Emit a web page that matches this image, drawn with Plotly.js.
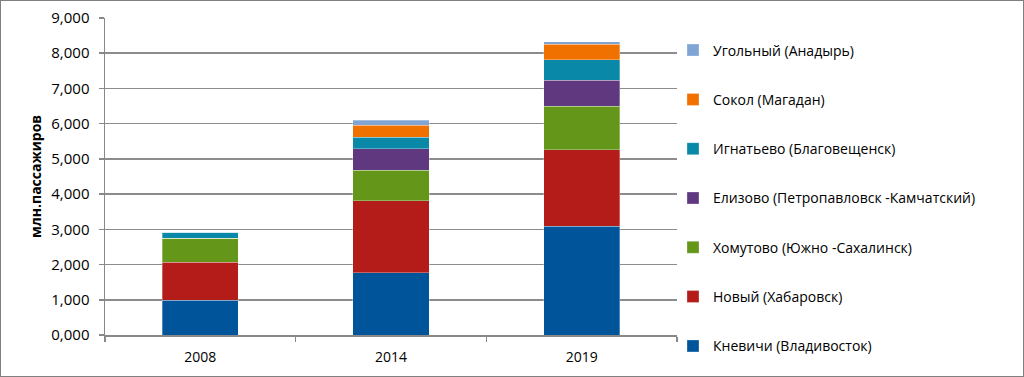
<!DOCTYPE html>
<html><head><meta charset="utf-8">
<script src="https://cdn.plot.ly/plotly-3.0.1.min.js"></script>
<style>
html,body{margin:0;padding:0;background:#fff;}
#wrap{width:1022px;height:375px;border:1px solid #808080;}
#chart{width:1022px;height:375px;}
</style></head>
<body><div id="wrap"><div id="chart"></div></div>
<script>
const years = ['2008', '2014', '2019'];
const seriesNames = [
  'Кневичи (Владивосток)',
  'Новый (Хабаровск)',
  'Хомутово (Южно -Сахалинск)',
  'Елизово (Петропавловск -Камчатский)',
  'Игнатьево (Благовещенск)',
  'Сокол (Магадан)',
  'Угольный (Анадырь)'
];
const knevichi  = [0.99, 1.77, 3.09];
const novy      = [1.08, 2.045, 2.175];
const khomutovo = [0.67, 0.865, 1.225];
const elizovo   = [0, 0.61, 0.745];
const ignatyevo = [0.18, 0.32, 0.585];
const sokol     = [0, 0.34, 0.43];
const ugolny    = [0, 0.15, 0.08];
const colors = ['#00549a', '#b41c1a', '#64961a', '#603880', '#0a88a8', '#f07000', '#80a4d4'];

const values = [knevichi, novy, khomutovo, elizovo, ignatyevo, sokol, ugolny];
const font = "'Open Sans', sans-serif";
const traces = values.map((v, i) => ({
  type: 'bar', x: years, y: v, name: seriesNames[i],
  legendgroup: 'g' + i,
  legendrank: 1000 - i,
  marker: {color: colors[i], line: {color: 'rgba(255,255,255,0.5)', width: 0.6}},
  hoverinfo: 'skip'
}));

const layout = {
  width: 1022, height: 375,
  margin: {l: 104, r: 346, t: 17, b: 41},
  barmode: 'stack', bargap: 0.6,
  separators: ', ',
  paper_bgcolor: '#fff', plot_bgcolor: '#fff',
  font: {family: font, size: 14, color: '#000'},
  xaxis: {
    type: 'category', tickson: 'boundaries', ticks: 'outside', ticklen: 5,
    tickcolor: '#888', tickwidth: 1.5,
    showline: true, linecolor: '#888', linewidth: 1.5,
    tickfont: {size: 14, family: font}, showgrid: false,
    ticklabelstandoff: 9
  },
  yaxis: {
    range: [0, 9], tickvals: [0,1,2,3,4,5,6,7,8,9], tickformat: '.3f',
    ticks: 'outside', ticklen: 5, tickcolor: '#888', tickwidth: 1.5,
    showline: true, linecolor: '#888', linewidth: 1.5,
    gridcolor: '#8c8c8c', gridwidth: 1.5, zeroline: false,
    tickfont: {size: 15, family: font},
    ticklabelstandoff: 6,
    title: {text: '<b>млн.пассажиров</b>', font: {size: 14, family: font}, standoff: 6}
  },
  legend: {
    x: 0.993, xanchor: 'left', y: 0.948, yanchor: 'top',
    traceorder: 'grouped', tracegroupgap: 28.1, maxheight: 400,
    font: {size: 14, family: font}, bgcolor: 'rgba(0,0,0,0)'
  },
  showlegend: true
};
Plotly.newPlot('chart', traces, layout, {displayModeBar: false, staticPlot: true});
</script></body></html>
